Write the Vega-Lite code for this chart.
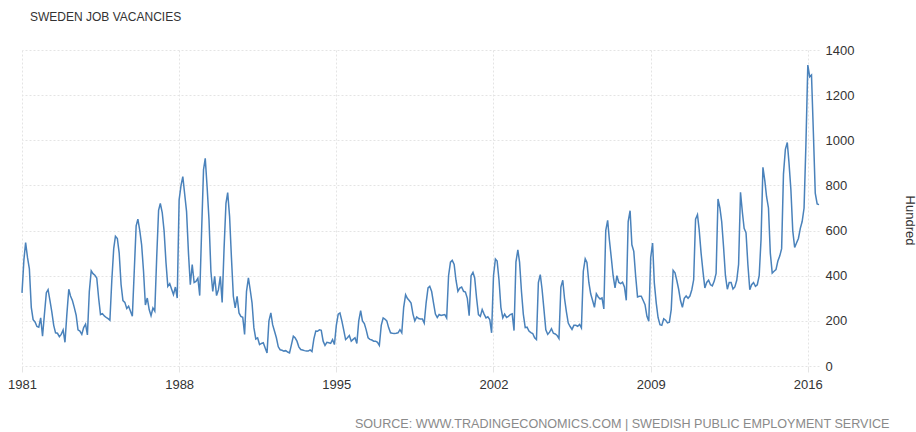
{
"$schema": "https://vega.github.io/schema/vega-lite/v6.json",
"width": 797, "height": 316,
"autosize": {"type": "none"},
"padding": {"left": 22, "top": 50, "right": 97, "bottom": 66},
"background": "white",
"title": {"text": "SWEDEN JOB VACANCIES", "anchor": "start", "frame": "group", "offset": 20, "dx": 8, "font": "Liberation Sans", "fontSize": 12, "fontWeight": "normal", "color": "#333333"},
"config": {"view": {"stroke": null}},
"data": {"values": [
{"date":"1981-01-01","value":324},{"date":"1981-02-01","value":470},{"date":"1981-03-01","value":547},{"date":"1981-04-01","value":480},{"date":"1981-05-01","value":430},{"date":"1981-06-01","value":260},{"date":"1981-07-01","value":205},{"date":"1981-08-01","value":195},{"date":"1981-09-01","value":175},{"date":"1981-10-01","value":172},{"date":"1981-11-01","value":213},{"date":"1981-12-01","value":132},
{"date":"1982-01-01","value":230},{"date":"1982-02-01","value":325},{"date":"1982-03-01","value":338},{"date":"1982-04-01","value":290},{"date":"1982-05-01","value":240},{"date":"1982-06-01","value":180},{"date":"1982-07-01","value":147},{"date":"1982-08-01","value":145},{"date":"1982-09-01","value":130},{"date":"1982-10-01","value":140},{"date":"1982-11-01","value":160},{"date":"1982-12-01","value":105},
{"date":"1983-01-01","value":230},{"date":"1983-02-01","value":340},{"date":"1983-03-01","value":310},{"date":"1983-04-01","value":290},{"date":"1983-05-01","value":260},{"date":"1983-06-01","value":225},{"date":"1983-07-01","value":160},{"date":"1983-08-01","value":155},{"date":"1983-09-01","value":140},{"date":"1983-10-01","value":170},{"date":"1983-11-01","value":185},{"date":"1983-12-01","value":138},
{"date":"1984-01-01","value":330},{"date":"1984-02-01","value":422},{"date":"1984-03-01","value":409},{"date":"1984-04-01","value":402},{"date":"1984-05-01","value":390},{"date":"1984-06-01","value":300},{"date":"1984-07-01","value":228},{"date":"1984-08-01","value":232},{"date":"1984-09-01","value":222},{"date":"1984-10-01","value":215},{"date":"1984-11-01","value":210},{"date":"1984-12-01","value":203},
{"date":"1985-01-01","value":380},{"date":"1985-02-01","value":520},{"date":"1985-03-01","value":575},{"date":"1985-04-01","value":565},{"date":"1985-05-01","value":500},{"date":"1985-06-01","value":360},{"date":"1985-07-01","value":290},{"date":"1985-08-01","value":282},{"date":"1985-09-01","value":255},{"date":"1985-10-01","value":265},{"date":"1985-11-01","value":243},{"date":"1985-12-01","value":220},
{"date":"1986-01-01","value":420},{"date":"1986-02-01","value":621},{"date":"1986-03-01","value":651},{"date":"1986-04-01","value":600},{"date":"1986-05-01","value":537},{"date":"1986-06-01","value":420},{"date":"1986-07-01","value":270},{"date":"1986-08-01","value":301},{"date":"1986-09-01","value":250},{"date":"1986-10-01","value":223},{"date":"1986-11-01","value":257},{"date":"1986-12-01","value":243},
{"date":"1987-01-01","value":480},{"date":"1987-02-01","value":690},{"date":"1987-03-01","value":720},{"date":"1987-04-01","value":680},{"date":"1987-05-01","value":600},{"date":"1987-06-01","value":460},{"date":"1987-07-01","value":353},{"date":"1987-08-01","value":365},{"date":"1987-09-01","value":340},{"date":"1987-10-01","value":316},{"date":"1987-11-01","value":350},{"date":"1987-12-01","value":301},
{"date":"1988-01-01","value":736},{"date":"1988-02-01","value":800},{"date":"1988-03-01","value":839},{"date":"1988-04-01","value":760},{"date":"1988-05-01","value":684},{"date":"1988-06-01","value":500},{"date":"1988-07-01","value":360},{"date":"1988-08-01","value":449},{"date":"1988-09-01","value":370},{"date":"1988-10-01","value":375},{"date":"1988-11-01","value":389},{"date":"1988-12-01","value":312},
{"date":"1989-01-01","value":600},{"date":"1989-02-01","value":870},{"date":"1989-03-01","value":920},{"date":"1989-04-01","value":790},{"date":"1989-05-01","value":648},{"date":"1989-06-01","value":420},{"date":"1989-07-01","value":330},{"date":"1989-08-01","value":397},{"date":"1989-09-01","value":312},{"date":"1989-10-01","value":338},{"date":"1989-11-01","value":397},{"date":"1989-12-01","value":282},
{"date":"1990-01-01","value":520},{"date":"1990-02-01","value":721},{"date":"1990-03-01","value":768},{"date":"1990-04-01","value":662},{"date":"1990-05-01","value":480},{"date":"1990-06-01","value":309},{"date":"1990-07-01","value":257},{"date":"1990-08-01","value":309},{"date":"1990-09-01","value":235},{"date":"1990-10-01","value":220},{"date":"1990-11-01","value":216},{"date":"1990-12-01","value":140},
{"date":"1991-01-01","value":330},{"date":"1991-02-01","value":390},{"date":"1991-03-01","value":340},{"date":"1991-04-01","value":280},{"date":"1991-05-01","value":170},{"date":"1991-06-01","value":120},{"date":"1991-07-01","value":125},{"date":"1991-08-01","value":95},{"date":"1991-09-01","value":100},{"date":"1991-10-01","value":103},{"date":"1991-11-01","value":80},{"date":"1991-12-01","value":58},
{"date":"1992-01-01","value":200},{"date":"1992-02-01","value":235},{"date":"1992-03-01","value":183},{"date":"1992-04-01","value":154},{"date":"1992-05-01","value":125},{"date":"1992-06-01","value":85},{"date":"1992-07-01","value":72},{"date":"1992-08-01","value":70},{"date":"1992-09-01","value":66},{"date":"1992-10-01","value":68},{"date":"1992-11-01","value":62},{"date":"1992-12-01","value":58},
{"date":"1993-01-01","value":95},{"date":"1993-02-01","value":132},{"date":"1993-03-01","value":125},{"date":"1993-04-01","value":110},{"date":"1993-05-01","value":85},{"date":"1993-06-01","value":73},{"date":"1993-07-01","value":71},{"date":"1993-08-01","value":68},{"date":"1993-09-01","value":66},{"date":"1993-10-01","value":66},{"date":"1993-11-01","value":71},{"date":"1993-12-01","value":64},
{"date":"1994-01-01","value":120},{"date":"1994-02-01","value":155},{"date":"1994-03-01","value":154},{"date":"1994-04-01","value":160},{"date":"1994-05-01","value":158},{"date":"1994-06-01","value":110},{"date":"1994-07-01","value":91},{"date":"1994-08-01","value":105},{"date":"1994-09-01","value":103},{"date":"1994-10-01","value":100},{"date":"1994-11-01","value":117},{"date":"1994-12-01","value":95},
{"date":"1995-01-01","value":180},{"date":"1995-02-01","value":230},{"date":"1995-03-01","value":235},{"date":"1995-04-01","value":200},{"date":"1995-05-01","value":160},{"date":"1995-06-01","value":117},{"date":"1995-07-01","value":125},{"date":"1995-08-01","value":135},{"date":"1995-09-01","value":110},{"date":"1995-10-01","value":118},{"date":"1995-11-01","value":125},{"date":"1995-12-01","value":100},
{"date":"1996-01-01","value":200},{"date":"1996-02-01","value":245},{"date":"1996-03-01","value":200},{"date":"1996-04-01","value":188},{"date":"1996-05-01","value":160},{"date":"1996-06-01","value":125},{"date":"1996-07-01","value":118},{"date":"1996-08-01","value":115},{"date":"1996-09-01","value":110},{"date":"1996-10-01","value":110},{"date":"1996-11-01","value":105},{"date":"1996-12-01","value":91},
{"date":"1997-01-01","value":180},{"date":"1997-02-01","value":213},{"date":"1997-03-01","value":208},{"date":"1997-04-01","value":200},{"date":"1997-05-01","value":170},{"date":"1997-06-01","value":147},{"date":"1997-07-01","value":145},{"date":"1997-08-01","value":144},{"date":"1997-09-01","value":145},{"date":"1997-10-01","value":147},{"date":"1997-11-01","value":161},{"date":"1997-12-01","value":147},
{"date":"1998-01-01","value":260},{"date":"1998-02-01","value":316},{"date":"1998-03-01","value":300},{"date":"1998-04-01","value":290},{"date":"1998-05-01","value":279},{"date":"1998-06-01","value":230},{"date":"1998-07-01","value":200},{"date":"1998-08-01","value":217},{"date":"1998-09-01","value":210},{"date":"1998-10-01","value":208},{"date":"1998-11-01","value":208},{"date":"1998-12-01","value":190},
{"date":"1999-01-01","value":280},{"date":"1999-02-01","value":346},{"date":"1999-03-01","value":353},{"date":"1999-04-01","value":330},{"date":"1999-05-01","value":280},{"date":"1999-06-01","value":230},{"date":"1999-07-01","value":215},{"date":"1999-08-01","value":228},{"date":"1999-09-01","value":224},{"date":"1999-10-01","value":226},{"date":"1999-11-01","value":228},{"date":"1999-12-01","value":213},
{"date":"2000-01-01","value":400},{"date":"2000-02-01","value":460},{"date":"2000-03-01","value":468},{"date":"2000-04-01","value":450},{"date":"2000-05-01","value":380},{"date":"2000-06-01","value":331},{"date":"2000-07-01","value":345},{"date":"2000-08-01","value":350},{"date":"2000-09-01","value":331},{"date":"2000-10-01","value":328},{"date":"2000-11-01","value":300},{"date":"2000-12-01","value":223},
{"date":"2001-01-01","value":400},{"date":"2001-02-01","value":415},{"date":"2001-03-01","value":390},{"date":"2001-04-01","value":300},{"date":"2001-05-01","value":228},{"date":"2001-06-01","value":220},{"date":"2001-07-01","value":250},{"date":"2001-08-01","value":230},{"date":"2001-09-01","value":213},{"date":"2001-10-01","value":218},{"date":"2001-11-01","value":206},{"date":"2001-12-01","value":147},
{"date":"2002-01-01","value":400},{"date":"2002-02-01","value":474},{"date":"2002-03-01","value":465},{"date":"2002-04-01","value":380},{"date":"2002-05-01","value":260},{"date":"2002-06-01","value":213},{"date":"2002-07-01","value":230},{"date":"2002-08-01","value":215},{"date":"2002-09-01","value":220},{"date":"2002-10-01","value":228},{"date":"2002-11-01","value":231},{"date":"2002-12-01","value":157},
{"date":"2003-01-01","value":460},{"date":"2003-02-01","value":515},{"date":"2003-03-01","value":460},{"date":"2003-04-01","value":330},{"date":"2003-05-01","value":230},{"date":"2003-06-01","value":170},{"date":"2003-07-01","value":172},{"date":"2003-08-01","value":155},{"date":"2003-09-01","value":148},{"date":"2003-10-01","value":144},{"date":"2003-11-01","value":125},{"date":"2003-12-01","value":117},
{"date":"2004-01-01","value":370},{"date":"2004-02-01","value":405},{"date":"2004-03-01","value":340},{"date":"2004-04-01","value":250},{"date":"2004-05-01","value":160},{"date":"2004-06-01","value":140},{"date":"2004-07-01","value":150},{"date":"2004-08-01","value":165},{"date":"2004-09-01","value":145},{"date":"2004-10-01","value":142},{"date":"2004-11-01","value":135},{"date":"2004-12-01","value":122},
{"date":"2005-01-01","value":350},{"date":"2005-02-01","value":380},{"date":"2005-03-01","value":300},{"date":"2005-04-01","value":240},{"date":"2005-05-01","value":190},{"date":"2005-06-01","value":175},{"date":"2005-07-01","value":162},{"date":"2005-08-01","value":180},{"date":"2005-09-01","value":180},{"date":"2005-10-01","value":176},{"date":"2005-11-01","value":184},{"date":"2005-12-01","value":169},
{"date":"2006-01-01","value":420},{"date":"2006-02-01","value":475},{"date":"2006-03-01","value":459},{"date":"2006-04-01","value":370},{"date":"2006-05-01","value":320},{"date":"2006-06-01","value":290},{"date":"2006-07-01","value":260},{"date":"2006-08-01","value":320},{"date":"2006-09-01","value":306},{"date":"2006-10-01","value":297},{"date":"2006-11-01","value":302},{"date":"2006-12-01","value":253},
{"date":"2007-01-01","value":600},{"date":"2007-02-01","value":645},{"date":"2007-03-01","value":559},{"date":"2007-04-01","value":480},{"date":"2007-05-01","value":400},{"date":"2007-06-01","value":346},{"date":"2007-07-01","value":400},{"date":"2007-08-01","value":370},{"date":"2007-09-01","value":365},{"date":"2007-10-01","value":371},{"date":"2007-11-01","value":350},{"date":"2007-12-01","value":291},
{"date":"2008-01-01","value":640},{"date":"2008-02-01","value":688},{"date":"2008-03-01","value":537},{"date":"2008-04-01","value":508},{"date":"2008-05-01","value":400},{"date":"2008-06-01","value":306},{"date":"2008-07-01","value":309},{"date":"2008-08-01","value":309},{"date":"2008-09-01","value":290},{"date":"2008-10-01","value":272},{"date":"2008-11-01","value":220},{"date":"2008-12-01","value":198},
{"date":"2009-01-01","value":480},{"date":"2009-02-01","value":545},{"date":"2009-03-01","value":368},{"date":"2009-04-01","value":280},{"date":"2009-05-01","value":215},{"date":"2009-06-01","value":183},{"date":"2009-07-01","value":180},{"date":"2009-08-01","value":209},{"date":"2009-09-01","value":203},{"date":"2009-10-01","value":191},{"date":"2009-11-01","value":194},{"date":"2009-12-01","value":250},
{"date":"2010-01-01","value":424},{"date":"2010-02-01","value":413},{"date":"2010-03-01","value":380},{"date":"2010-04-01","value":340},{"date":"2010-05-01","value":290},{"date":"2010-06-01","value":260},{"date":"2010-07-01","value":300},{"date":"2010-08-01","value":310},{"date":"2010-09-01","value":300},{"date":"2010-10-01","value":310},{"date":"2010-11-01","value":338},{"date":"2010-12-01","value":382},
{"date":"2011-01-01","value":650},{"date":"2011-02-01","value":670},{"date":"2011-03-01","value":603},{"date":"2011-04-01","value":500},{"date":"2011-05-01","value":420},{"date":"2011-06-01","value":346},{"date":"2011-07-01","value":370},{"date":"2011-08-01","value":380},{"date":"2011-09-01","value":360},{"date":"2011-10-01","value":355},{"date":"2011-11-01","value":376},{"date":"2011-12-01","value":410},
{"date":"2012-01-01","value":740},{"date":"2012-02-01","value":700},{"date":"2012-03-01","value":640},{"date":"2012-04-01","value":525},{"date":"2012-05-01","value":400},{"date":"2012-06-01","value":340},{"date":"2012-07-01","value":370},{"date":"2012-08-01","value":370},{"date":"2012-09-01","value":341},{"date":"2012-10-01","value":350},{"date":"2012-11-01","value":380},{"date":"2012-12-01","value":450},
{"date":"2013-01-01","value":770},{"date":"2013-02-01","value":680},{"date":"2013-03-01","value":610},{"date":"2013-04-01","value":590},{"date":"2013-05-01","value":450},{"date":"2013-06-01","value":338},{"date":"2013-07-01","value":360},{"date":"2013-08-01","value":370},{"date":"2013-09-01","value":353},{"date":"2013-10-01","value":360},{"date":"2013-11-01","value":400},{"date":"2013-12-01","value":560},
{"date":"2014-01-01","value":880},{"date":"2014-02-01","value":820},{"date":"2014-03-01","value":750},{"date":"2014-04-01","value":700},{"date":"2014-05-01","value":500},{"date":"2014-06-01","value":412},{"date":"2014-07-01","value":420},{"date":"2014-08-01","value":427},{"date":"2014-09-01","value":465},{"date":"2014-10-01","value":487},{"date":"2014-11-01","value":520},{"date":"2014-12-01","value":850},
{"date":"2015-01-01","value":960},{"date":"2015-02-01","value":990},{"date":"2015-03-01","value":900},{"date":"2015-04-01","value":780},{"date":"2015-05-01","value":600},{"date":"2015-06-01","value":525},{"date":"2015-07-01","value":545},{"date":"2015-08-01","value":565},{"date":"2015-09-01","value":610},{"date":"2015-10-01","value":640},{"date":"2015-11-01","value":700},{"date":"2015-12-01","value":980},
{"date":"2016-01-01","value":1333},{"date":"2016-02-01","value":1281},{"date":"2016-03-01","value":1289},{"date":"2016-04-01","value":1030},{"date":"2016-05-01","value":766},{"date":"2016-06-01","value":718},{"date":"2016-07-01","value":715}
]},
"mark": {"type": "line", "color": "#4a82bb", "strokeWidth": 1.5, "interpolate": "linear"},
"encoding": {
"x": {"field": "date", "type": "temporal", "scale": {"type": "utc", "nice": false},
 "axis": {"values": [{"year":1981,"month":1,"date":1,"utc":true},{"year":1988,"month":1,"date":1,"utc":true},{"year":1995,"month":1,"date":1,"utc":true},{"year":2002,"month":1,"date":1,"utc":true},{"year":2009,"month":1,"date":1,"utc":true},{"year":2016,"month":1,"date":1,"utc":true}],
  "format": "%Y", "labelFlush": false, "labelFont": "Liberation Sans", "labelFontSize": 13, "labelColor": "#333333", "labelPadding": 6,
  "grid": true, "gridColor": "#e4e4e4", "gridDash": [2, 2], "gridWidth": 1,
  "ticks": true, "tickColor": "#e4e4e4", "tickSize": 6, "domain": false,
  "title": "SOURCE: WWW.TRADINGECONOMICS.COM | SWEDISH PUBLIC EMPLOYMENT SERVICE",
  "titleFont": "Liberation Sans", "titleFontSize": 12.6, "titleFontWeight": "normal", "titleColor": "#8a8a8a",
  "titleAlign": "right", "titleAnchor": null, "titleBaseline": "alphabetic", "titleX": 867, "titleY": 61}},
"y": {"field": "value", "type": "quantitative", "scale": {"domain": [0, 1400], "nice": false},
 "axis": {"orient": "right", "values": [0, 200, 400, 600, 800, 1000, 1200, 1400], "format": "d",
  "labelFont": "Liberation Sans", "labelFontSize": 13, "labelColor": "#333333", "labelPadding": 6, "labelAlign": "left", "labelBaseline": "middle",
  "grid": true, "gridColor": "#e4e4e4", "gridDash": [2, 2], "gridWidth": 1,
  "ticks": false, "domain": false,
  "title": "Hundred", "titleFont": "Liberation Sans", "titleFontSize": 13, "titleFontWeight": "normal", "titleColor": "#333333",
  "titleAngle": 90, "titleAlign": "center", "titleBaseline": "middle", "titleX": 90, "titleY": 170}}
}
}
